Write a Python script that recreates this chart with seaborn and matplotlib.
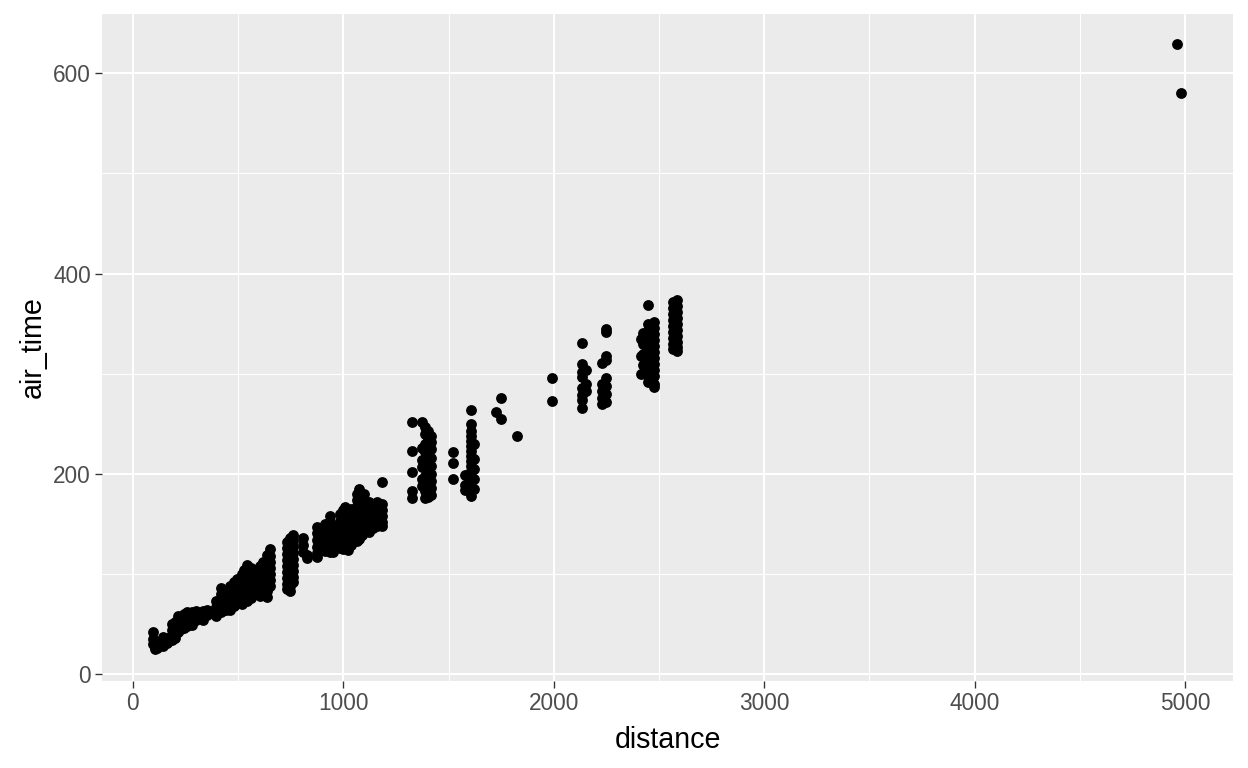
import pandas as pd
import seaborn as sns
import matplotlib.pyplot as plt
from matplotlib.ticker import MultipleLocator

# distance of each route column and the air_time values seen along it
route_distance = [
    94, 106, 116, 143, 160, 184, 199, 213, 228, 244, 259, 280, 301, 335, 350,
    397, 419, 441, 462, 479, 496, 517, 530, 544, 563, 583, 602, 617, 635, 650,
    733, 746, 762, 810, 825, 873, 888, 912, 937, 950, 984, 997, 1008, 1023,
    1035, 1065, 1076, 1089, 1096, 1120, 1140, 1160, 1182,
    1325, 1372, 1389, 1400, 1416, 1520, 1576, 1605, 1620, 1725, 1747, 1826,
    1990, 2133, 2153, 2227, 2248, 2415, 2422, 2446, 2454, 2475, 2565, 2586,
    4963, 4983,
]
route_air_time = [
    [42, 35, 30], [33, 28, 25], [30, 26], [37, 32, 28], [36, 31],
    [50, 44, 39, 34], [52, 46, 41, 36], [58, 52, 47, 42], [56, 50, 45],
    [60, 55, 50, 46], [62, 57, 52, 48], [62, 57, 53, 49], [63, 58, 54],
    [63, 58, 54], [64, 59],
    [73, 67, 62, 58], [86, 80, 74, 68, 62], [82, 76, 70, 64],
    [88, 82, 76, 70, 64], [92, 86, 80, 74, 68], [95, 90, 84, 78, 72],
    [100, 94, 88, 82, 76, 70], [104, 98, 92, 86, 80, 74],
    [109, 103, 97, 91, 85, 79, 73], [106, 100, 94, 88, 82, 76],
    [104, 98, 92, 86, 80], [108, 102, 96, 90, 84, 78],
    [112, 106, 100, 94, 88, 82], [119, 113, 107, 101, 95, 89, 83, 77],
    [125, 118, 112, 106, 100, 94, 88],
    [132, 126, 120, 114, 108, 102, 96, 90, 85],
    [136, 130, 124, 118, 112, 106, 100, 94, 88, 83],
    [139, 133, 127, 121, 115, 109, 103, 97, 92],
    [136, 129, 122], [119, 116], [147, 141, 134, 127, 121, 117],
    [140, 133, 126], [150, 143, 136, 129, 123],
    [158, 152, 146, 140, 134, 128, 122], [148, 141, 134, 127, 122],
    [160, 153, 146, 139, 132, 126], [164, 158, 151, 144, 137, 130, 125],
    [167, 161, 155, 149, 143, 137, 131, 126],
    [163, 157, 151, 145, 139, 133, 124], [165, 159, 153, 147, 141, 135, 129],
    [180, 174, 168, 162, 156, 150, 144, 138, 133],
    [185, 178, 171, 165, 159, 153, 147, 141, 135],
    [177, 170, 163, 157, 151, 145, 139], [180, 173, 166, 160, 154, 148, 142],
    [172, 166, 160, 154, 148, 142], [170, 164, 158, 152, 146],
    [172, 166, 160, 154, 148], [192, 170, 164, 158, 152, 148],
    [252, 223, 202, 183, 176], [252, 226, 214, 207, 195, 188],
    [247, 240, 230, 222, 214, 206, 198, 190, 183, 176],
    [243, 236, 228, 220, 212, 205, 198, 190, 183, 177],
    [238, 232, 225, 216, 208, 200, 193, 186, 179],
    [222, 211, 195], [199, 189, 184],
    [264, 250, 243, 238, 233, 228, 223, 218, 213, 208, 203, 198, 193, 188, 183, 178],
    [230, 215, 205, 195, 185], [262], [276, 255], [238],
    [296, 273], [331, 310, 302, 297, 286, 279, 274, 266], [304, 290, 283],
    [311, 290, 283, 276, 270], [345, 342, 318, 314, 296, 288, 280, 272],
    [335, 318, 300], [341, 330, 320, 309],
    [369, 350, 340, 333, 325, 318, 312, 305, 298, 292],
    [345, 338, 330, 322, 315, 308, 300, 293],
    [352, 346, 340, 334, 328, 322, 316, 310, 304, 298, 290, 287],
    [372, 366, 360, 354, 348, 342, 336, 330, 325],
    [374, 368, 362, 356, 350, 344, 338, 332, 327, 323],
    [629], [580],
]

rows = []
for d, times in zip(route_distance, route_air_time):
    for t in times:
        rows.append({"distance": d, "air_time": t})
flights = pd.DataFrame(rows)

sns.set_style("darkgrid", {"axes.facecolor": "#EBEBEB", "grid.color": "white"})
plt.rcParams["font.family"] = ["Liberation Sans", "DejaVu Sans"]

fig = plt.figure(figsize=(13, 8), dpi=96)
ax = fig.add_axes([102 / 1248, 1 - 681 / 768, (1233 - 102) / 1248, (681 - 14) / 768])

sns.scatterplot(data=flights, x="distance", y="air_time", ax=ax,
                color="black", s=66, linewidth=0, zorder=3)

ax.set_xlim(-147, 5228)
ax.set_ylim(-6.7, 659.2)
ax.xaxis.set_major_locator(MultipleLocator(1000))
ax.xaxis.set_minor_locator(MultipleLocator(500))
ax.yaxis.set_major_locator(MultipleLocator(200))
ax.yaxis.set_minor_locator(MultipleLocator(100))
ax.grid(which="major", color="white", linewidth=1.5)
ax.grid(which="minor", color="white", linewidth=0.75)
ax.set_axisbelow(True)
for sp in ax.spines.values():
    sp.set_visible(False)

ax.tick_params(which="major", length=5.25, width=1, color="#333333",
               labelsize=17, labelcolor="#4D4D4D", pad=3)
ax.tick_params(which="minor", length=0)
ax.tick_params(axis="x", bottom=True)
ax.tick_params(axis="y", left=True)

ax.set_xlabel("distance", fontsize=21.5, color="black", labelpad=8)
ax.set_ylabel("air_time", fontsize=21.5, color="black", labelpad=5)

fig.savefig("out.png", dpi=96)
